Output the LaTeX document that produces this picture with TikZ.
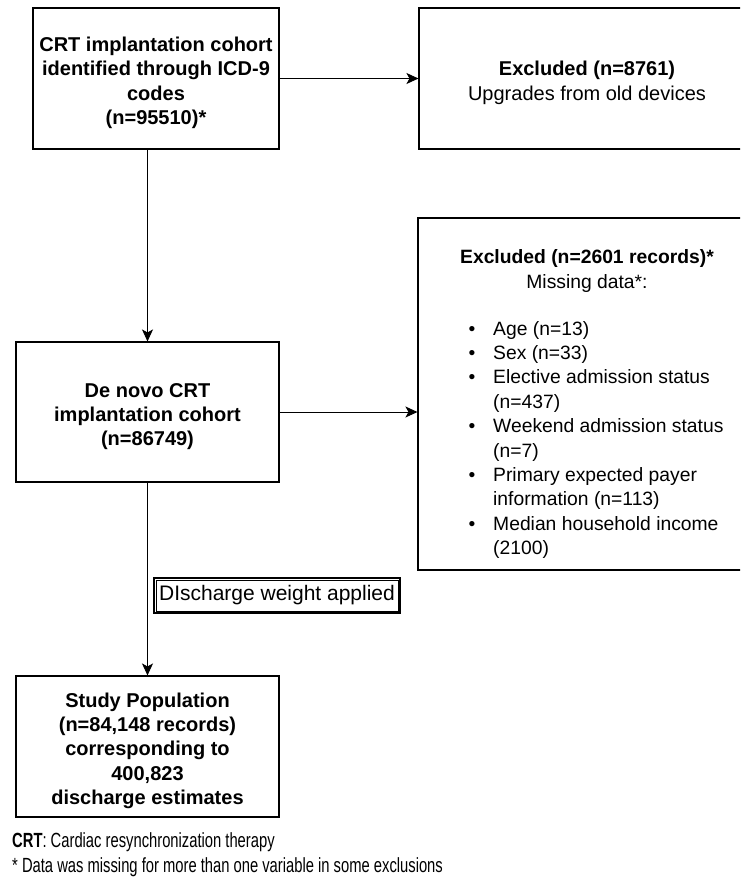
\documentclass[tikz,border=0pt]{standalone}
\usepackage{fontspec}
\setmainfont{Liberation Sans}
\newfontfamily\narrowsf[FakeStretch=0.72]{Liberation Sans}
\usepackage{tikz}
\usetikzlibrary{arrows.meta, calc}

\newcommand{\bul}{\makebox[24.5pt][l]{\textbullet}}
\newcommand{\lowr}{\rule{0pt}{23pt}}

\begin{document}
\begin{tikzpicture}[x=1pt, y=-1pt,
		box/.style={draw, line width=1.1pt, inner sep=0pt, align=center},
		flow/.style={line width=1pt, -{Stealth[length=12pt, width=11pt, inset=3pt]}},
		big/.style={font=\fontsize{20}{24.4}\selectfont},
		small/.style={font=\fontsize{19.3}{24.4}\selectfont}]
		\clip (0, 0) rectangle (740, 879);
		\fill[white] (0, 0) rectangle (740, 879);

		% Boxes
		\node[box, big, minimum width=246, minimum height=141] (cohort) at (156, 78.5)
			{\lowr\bfseries CRT implantation cohort\\ \bfseries identified through ICD-9\\ \bfseries codes\\ \bfseries (n=95510)*};
		\node[box, big, minimum width=326, minimum height=141] (upgr) at (582, 78.5)
			{\lowr\hspace*{10pt}\bfseries Excluded (n=8761)\\ \hspace*{10pt}Upgrades from old devices};
		\node[box, minimum width=327, minimum height=352] (missing) at (581.5, 394) {};
		\node[box, big, minimum width=263, minimum height=140] (denovo) at (147.5, 412)
			{\lowr\bfseries De novo CRT\\ \bfseries implantation cohort\\ \bfseries (n=86749)};
		\node[box, big, minimum width=263, minimum height=141] (study) at (147.5, 746.5)
			{\lowr\bfseries Study Population\\ \bfseries (n=84,148 records)\\ \bfseries corresponding to\\ \bfseries 400,823\\ \bfseries discharge estimates};
		\node[box, line width=1.6pt, font=\fontsize{21}{24}\selectfont, minimum width=246, minimum height=35] (weight) at (277, 595.5)
			{DIscharge weight applied};
		\draw[line width=0.6pt] ($(weight.north west)+(2.6, 2.6)$) rectangle ($(weight.south east)+(-2.6, -2.6)$);

		% Text of the second exclusion box
		\node[small, align=center, inner sep=0pt] (missinghead) at (587, 271)
			{\bfseries Excluded (n=2601 records)*\\ Missing data*:};
		\node[small, align=left, inner sep=0pt, anchor=north west] (missinglist) at (468.5, 321)
			{\bul Age (n=13)\\
			\bul Sex (n=33)\\
			\bul Elective admission status\\
			\hspace*{24.5pt}(n=437)\\
			\bul Weekend admission status\\
			\hspace*{24.5pt}(n=7)\\
			\bul Primary expected payer\\
			\hspace*{24.5pt}information (n=113)\\
			\bul Median household income\\
			\hspace*{24.5pt}(2100)};

		% Arrows
		\draw[flow] (cohort.east) -- (upgr.west);
		\draw[flow] (denovo.north |- cohort.south) -- (denovo.north);
		\draw[flow] (denovo.east) -- (denovo.east -| missing.west);
		\draw[flow] (denovo.south) -- (study.north);

		% Footnotes
		\node[anchor=west, inner sep=0pt, font=\narrowsf\fontsize{20.5}{24}\selectfont] (abbr) at (12, 842)
			{\bfseries CRT\mdseries: Cardiac resynchronization therapy};
		\node[anchor=west, inner sep=0pt, font=\narrowsf\fontsize{20.5}{24}\selectfont] (note) at (12, 867)
			{* Data was missing for more than one variable in some exclusions};
	\end{tikzpicture}
\end{document}
